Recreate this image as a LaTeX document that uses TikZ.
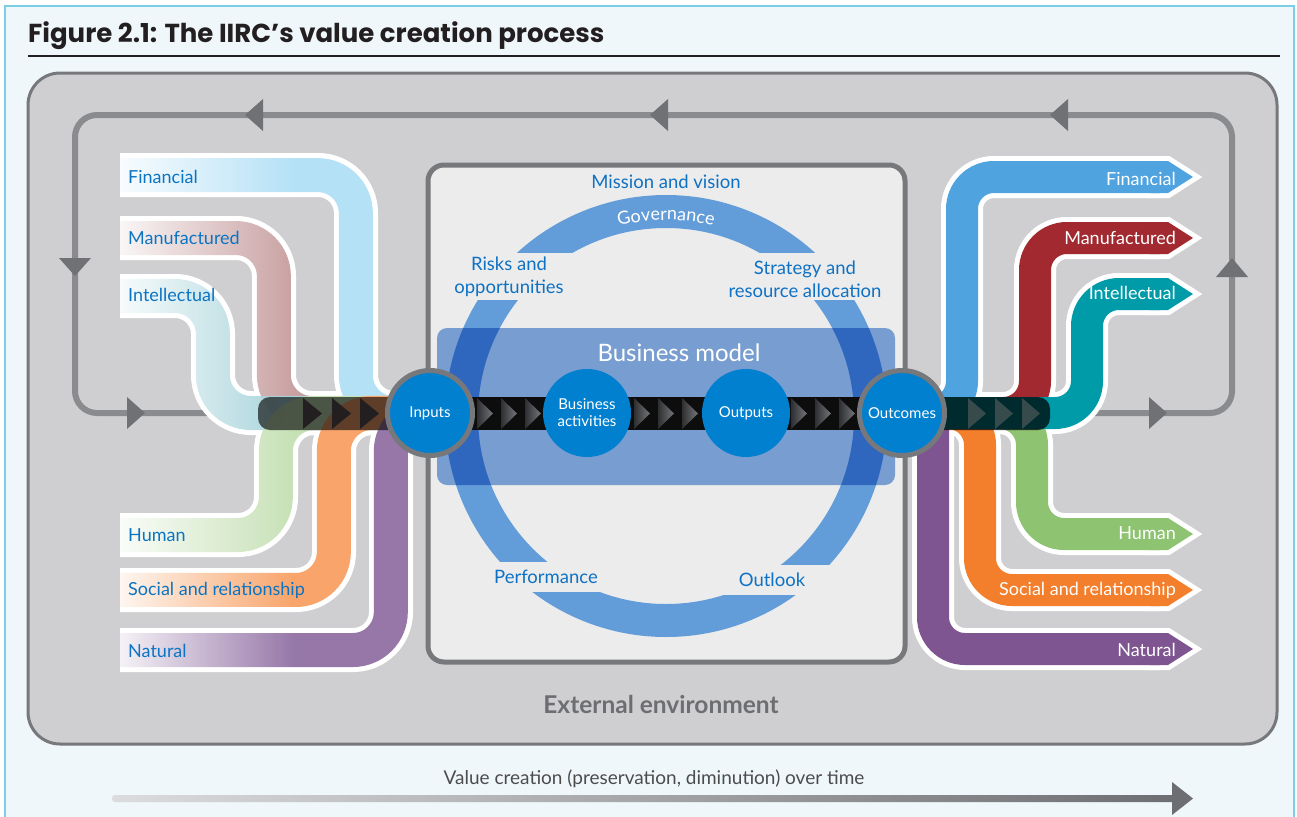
\documentclass[tikz,border=0pt]{standalone}
\usepackage{fontspec}
\setmainfont{Lato}
\newfontfamily\titlefont{Poppins}
\usetikzlibrary{fadings,decorations.text}
\tikzfading[name=fadein, left color=transparent!100, right color=transparent!0, middle color=transparent!0]
\definecolor{bgblue}{HTML}{EFF7FB}
\definecolor{framecyan}{HTML}{7ACFE5}
\definecolor{envgray}{HTML}{CFCFD1}
\definecolor{envborder}{HTML}{77787B}
\definecolor{loopgray}{HTML}{8A8B8E}
\definecolor{arrgray}{HTML}{707174}
\definecolor{boxfill}{HTML}{ECECEC}
\definecolor{ringblue}{HTML}{629DD9}
\definecolor{ringdark}{HTML}{2F67BE}
\definecolor{bmblue}{HTML}{789DD0}
\definecolor{circblue}{HTML}{0080CF}
\definecolor{labblue}{HTML}{0B74C3}
\definecolor{textblue}{HTML}{0E71C4}
\definecolor{titlecol}{HTML}{231F20}
\definecolor{envtext}{HTML}{6D6E71}
\definecolor{inFin}{HTML}{B5E1F6}
\definecolor{inMan}{HTML}{C9A1A2}
\definecolor{inInt}{HTML}{A7D4DB}
\definecolor{inHum}{HTML}{C7E1B6}
\definecolor{inSoc}{HTML}{F8A46A}
\definecolor{inNat}{HTML}{9677A8}
\definecolor{outFin}{HTML}{4FA3DF}
\definecolor{outMan}{HTML}{A1292F}
\definecolor{outInt}{HTML}{009BA8}
\definecolor{outHum}{HTML}{8DC371}
\definecolor{outSoc}{HTML}{F37E2B}
\definecolor{outNat}{HTML}{7F5591}
\definecolor{triA}{HTML}{2E2F31}
\definecolor{triB}{HTML}{74767A}
\definecolor{barL}{HTML}{DCDCDE}
\definecolor{barR}{HTML}{6D6E71}
\newcommand\lfont{\fontsize{18}{19}\selectfont}
\newcommand\mfont{\fontsize{18.5}{23}\selectfont}
\newcommand\cfont{\fontsize{15}{17}\selectfont}
\newcommand\govfont{\fontsize{18}{18}\selectfont\color{white}}
\begin{document}
\begin{tikzpicture}[x=1pt,y=-1pt,
  inwhite/.style={draw=white, line width=44pt, rounded corners=38pt},
  incol/.style={line width=34pt, rounded corners=38pt, path fading=fadein},
  outwhite/.style={draw=white, line width=42pt, rounded corners=32pt},
  outcol/.style={line width=32pt, rounded corners=32pt},
  inlab/.style={anchor=west, inner sep=0pt, text=labblue, font=\lfont},
  outlab/.style={anchor=east, inner sep=0pt, text=white, font=\lfont},
  ctext/.style={inner sep=0pt, text=textblue, font=\mfont, align=center},
  bigc/.style={circle, fill=circblue, minimum size=88pt, inner sep=0pt, text=white, font=\cfont, align=center},
  ringc/.style={bigc, draw=envborder, line width=5pt, minimum size=85pt},
  looparr/.style={fill=arrgray},
  darktri/.style={fill=titlecol},
  greytri/.style={fill=black!60!white, fill opacity=0.55},
  midtri/.style={left color=triA, right color=triB}
]
\useasboundingbox (0,0) rectangle (1297,816);
\fill[white] (0,0) rectangle (1297,816);
\filldraw[fill=bgblue, draw=framecyan, line width=1.2pt] (5,6) rectangle (1294,830);

% title
\node[anchor=base west, inner sep=0pt, text=titlecol, font=\titlefont\bfseries\fontsize{26}{28}\selectfont] (title) at (28,42) {Figure 2.1: The IIRC’s value creation process};
\draw[titlecol, line width=2pt] (28,56) -- (1280,56);

% external environment
\draw[draw=envborder, fill=envgray, line width=3pt, rounded corners=32pt] (28,73) rectangle (1277,744);
\node[text=envtext, font=\bfseries\fontsize{24.5}{26}\selectfont, inner sep=0pt] (ext) at (661,704) {External environment};

% coordinates of the chain
\coordinate (inC) at (430,413);
\coordinate (baC) at (587,413);
\coordinate (opC) at (746,413);
\coordinate (ocC) at (902,413);

% feedback loop
\draw[loopgray, line width=6pt, rounded corners=22pt] (240,413) -- (75,413) -- (75,115) -- (1232,115) -- (1232,413) -- (1080,413);
\fill[looparr] (245,115) -- (263,99) -- (263,131) -- cycle;
\fill[looparr] (650,115) -- (668,99) -- (668,131) -- cycle;
\fill[looparr] (1050,115) -- (1068,99) -- (1068,131) -- cycle;
\fill[looparr] (75,276) -- (59,258) -- (91,258) -- cycle;
\fill[looparr] (145,413) -- (127,397) -- (127,429) -- cycle;
\fill[looparr] (1167,413) -- (1149,397) -- (1149,429) -- cycle;
\fill[looparr] (1232,258) -- (1216,277) -- (1248,277) -- cycle;

% ---- pipes: white outlines
\path[inwhite] (120,175) -- (356,175) -- (356,413) -- (inC);
\path[inwhite] (120,238) -- (274,238) -- (274,413) -- (inC);
\path[inwhite] (120,296) -- (213,296) -- (213,413) -- (inC);
\path[inwhite] (120,535) -- (276,535) -- (276,413) -- (inC);
\path[inwhite] (120,590) -- (334,590) -- (334,413) -- (inC);
\path[inwhite] (120,650) -- (391,650) -- (391,413) -- (470,413);
\path[outwhite] (ocC) -- (962,413) -- (962,177) -- (1160,177);
\path[outwhite] (ocC) -- (1035,413) -- (1035,238) -- (1160,238);
\path[outwhite] (ocC) -- (1087,413) -- (1087,294) -- (1160,294);
\path[outwhite] (ocC) -- (1032,413) -- (1032,534) -- (1160,534);
\path[outwhite] (ocC) -- (980,413) -- (980,590) -- (1160,590);
\path[outwhite] (933,400) -- (933,649) -- (1160,649);
\foreach \y in {177,238,294,534,590,649}{
  \filldraw[white, line width=10pt, line join=miter] (1150,{\y-16}) -- (1168,{\y-16}) -- (1193,\y) -- (1168,{\y+16}) -- (1150,{\y+16}) -- cycle;
}
% ---- pipes: colours
\draw[incol, draw=inFin] (120,175) -- (356,175) -- (356,413) -- (470,413);
\draw[incol, draw=inMan] (120,238) -- (274,238) -- (274,413) -- (470,413);
\draw[incol, draw=inInt] (120,296) -- (213,296) -- (213,413) -- (470,413);
\draw[incol, draw=inHum] (120,535) -- (276,535) -- (276,413) -- (470,413);
\draw[incol, draw=inSoc] (120,590) -- (334,590) -- (334,413) -- (470,413);
\draw[incol, draw=inNat] (120,650) -- (391,650) -- (391,413) -- (470,413);
\draw[outcol, draw=outNat] (933,400) -- (933,649) -- (1160,649);
\draw[outcol, draw=outSoc] (ocC) -- (980,413) -- (980,590) -- (1160,590);
\draw[outcol, draw=outHum] (ocC) -- (1032,413) -- (1032,534) -- (1160,534);
\draw[outcol, draw=outFin] (ocC) -- (962,413) -- (962,177) -- (1160,177);
\draw[outcol, draw=outMan] (ocC) -- (1035,413) -- (1035,238) -- (1160,238);
\draw[outcol, draw=outInt] (ocC) -- (1087,413) -- (1087,294) -- (1160,294);
\foreach \y/\c in {177/outFin,238/outMan,294/outInt,534/outHum,590/outSoc,649/outNat}{
  \fill[\c] (1150,{\y-16}) -- (1168,{\y-16}) -- (1193,\y) -- (1168,{\y+16}) -- (1150,{\y+16}) -- cycle;
}

% dark overlays on the pipe bundles
\fill[black, opacity=0.62, rounded corners=12pt] (258,397) rectangle (400,430);
\foreach \x in {303,332,360}{ \fill[darktri] (\x,398) -- ({\x+19},413.5) -- (\x,429) -- cycle; }
\fill[black, opacity=0.72, rounded corners=12pt] (930,397) rectangle (1050,430);
\foreach \x in {968,995,1022}{ \fill[greytri] (\x,398) -- ({\x+18},413.5) -- (\x,429) -- cycle; }

% labels of capitals
\node[inlab] (lfin) at (128,177) {Financial};
\node[inlab] (lman) at (128,238) {Manufactured};
\node[inlab] (lint) at (128,295) {Intellectual};
\node[inlab] (lhum) at (128,535) {Human};
\node[inlab] (lsoc) at (128,590) {Social and relationship};
\node[inlab] (lnat) at (128,651) {Natural};
\node[outlab] (rfin) at (1176,179) {Financial};
\node[outlab] (rman) at (1176,238) {Manufactured};
\node[outlab] (rint) at (1176,293) {Intellectual};
\node[outlab] (rhum) at (1176,533) {Human};
\node[outlab] (rsoc) at (1176,590) {Social and relationship};
\node[outlab] (rnat) at (1176,650) {Natural};

% organisation box
\draw[envborder, fill=boxfill, line width=5pt, rounded corners=16pt] (428,165) rectangle (905,662);
\draw[ringblue, line width=33pt] (666,416) circle (204.5);
\fill[boxfill] (440,253) rectangle (600,300);
\fill[boxfill] (735,253) rectangle (895,300);
\fill[boxfill] (440,562) rectangle (640,592);
\fill[boxfill] (700,565) rectangle (895,595);
\fill[bmblue, rounded corners=10pt] (437,328) rectangle (895,485);
\begin{scope}
  \clip[rounded corners=10pt] (437,328) rectangle (895,485);
  \draw[ringdark, line width=33pt] (666,416) circle (204.5);
\end{scope}
\path[decorate, decoration={text along path, text align=center, text={|\govfont|Governance}}] (666,416) ++(243:196) arc (243:297:196);

\node[ctext] (mission) at (666,182) {Mission and vision};
\node[ctext] (risks) at (509,277) {Risks and\\opportunities};
\node[ctext] (strat) at (805,279) {Strategy and\\resource allocation};
\node[ctext] (perf) at (546,577) {Performance};
\node[ctext] (outl) at (772,580) {Outlook};
\node[text=white, font=\fontsize{24}{26}\selectfont, inner sep=0pt] (bm) at (679,353) {Business model};

% value chain bar
\fill[black!95] (inC) ++(0,-16) rectangle (902,430);
\foreach \x in {477,501,525,634,658,682,791,815,839}{ \shade[midtri] (\x,398) -- ({\x+16},413.5) -- (\x,429) -- cycle; }

\node[ringc] (inputs) at (inC) {Inputs};
\node[bigc] (ba) at (baC) {Business\\activities};
\node[bigc] (outputs) at (opC) {Outputs};
\node[ringc] (outcomes) at (ocC) {Outcomes};

% time arrow
\node[text=black!70, font=\fontsize{19}{21}\selectfont, inner sep=0pt] (vc) at (654,779) {Value creation (preservation, diminution) over time};
\shade[left color=barL, right color=barR, rounded corners=3pt] (112,795) rectangle (1176,802);
\fill[barR] (1172,782) -- (1193,798.5) -- (1172,815) -- cycle;
\end{tikzpicture}
\end{document}
